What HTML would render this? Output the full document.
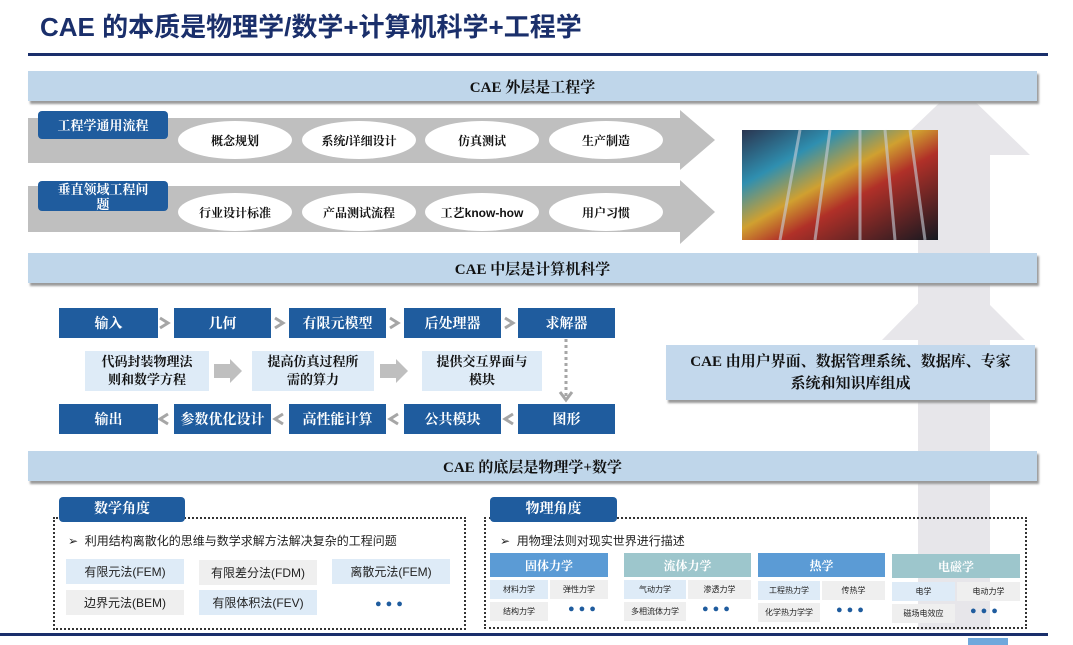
<!DOCTYPE html>
<html><head><meta charset="utf-8"><style>
*{margin:0;padding:0;box-sizing:border-box}
body{width:1073px;height:645px;background:#fff;position:relative;overflow:hidden;font-family:"Liberation Sans","Noto Sans CJK SC",sans-serif}
.a{position:absolute}
.band{position:absolute;left:28px;width:1009px;height:30px;background:#bfd6ea;box-shadow:2px 3px 2px #9a9a9a;font-family:"Liberation Serif","Noto Serif CJK SC",serif;font-weight:bold;font-size:15px;color:#111;display:flex;align-items:center;justify-content:center}
.tab{position:absolute;background:#1f5c9e;color:#fff;font-size:13px;border-radius:4px;display:flex;align-items:center;justify-content:center;text-align:center;line-height:15px;font-family:"Liberation Serif","Noto Serif CJK SC",serif;font-weight:bold}
.el{position:absolute;width:114px;height:38px;border-radius:50%;background:#fff;font-size:12px;font-weight:bold;color:#111;display:flex;align-items:center;justify-content:center;font-family:"Liberation Sans","Noto Serif CJK SC",serif}
.fb{position:absolute;height:30px;background:#1f5c9e;color:#fff;font-size:14px;font-weight:bold;display:flex;align-items:center;justify-content:center;font-family:"Liberation Serif","Noto Serif CJK SC",serif}
.mb{position:absolute;background:#deebf7;font-size:13px;font-weight:bold;color:#111;display:flex;align-items:center;justify-content:center;text-align:center;line-height:18px;font-family:"Liberation Serif","Noto Serif CJK SC",serif}
.dot{position:absolute;border:2px dotted #333}
.cell{position:absolute;font-size:12px;color:#222;display:flex;align-items:center;justify-content:center}
.lb{background:#deebf7}.gr{background:#efefef}
.hd{position:absolute;height:24px;color:#fff;font-size:12px;font-weight:bold;display:flex;align-items:center;justify-content:center;font-family:"Liberation Serif","Noto Serif CJK SC",serif}
.sc{position:absolute;height:19px;font-size:8px;color:#222;display:flex;align-items:center;justify-content:center}
.dots{position:absolute;color:#1f5c9e;font-size:11px;letter-spacing:4px}
</style></head><body>
<div class="a" style="left:40px;top:7px;font-size:26px;font-weight:bold;color:#1a2f6b">CAE 的本质是物理学/数学+计算机科学+工程学</div>
<div class="a" style="left:28px;top:53px;width:1020px;height:3px;background:#1a2f6b"></div>

<svg class="a" style="left:0;top:0" width="1073" height="645">
<polygon points="918,630 918,155 885,155 958,85 1030,155 990,155 990,630" fill="#e7e6ea"/>
<polygon points="918,450 918,340 882,340 953,268 1025,340 990,340 990,450" fill="#e7e6ea"/>
<polygon points="28,118 680,118 680,110 715,140 680,170 680,163 28,163" fill="#bfbfbf"/>
<polygon points="28,186 680,186 680,180 715,212 680,244 680,232 28,232" fill="#bfbfbf"/>
<defs><linearGradient id="g" x1="0" y1="0" x2="1" y2="1"><stop offset="0" stop-color="#2a3550"/><stop offset=".25" stop-color="#2f8fb0"/><stop offset=".45" stop-color="#d0a030"/><stop offset=".6" stop-color="#b03028"/><stop offset="1" stop-color="#141820"/></linearGradient></defs>
<rect x="742" y="130" width="196" height="110" fill="url(#g)"/>
<g stroke="#c8ced8" stroke-width="3" opacity=".6">
<line x1="800" y1="130" x2="780" y2="240"/><line x1="830" y1="130" x2="815" y2="240"/><line x1="860" y1="130" x2="860" y2="240"/><line x1="885" y1="130" x2="895" y2="240"/><line x1="910" y1="130" x2="925" y2="240"/></g>
<g stroke="#a6a6a6" stroke-width="3" fill="none">
<polyline points="160,318 168,323 160,328"/><polyline points="275,318 283,323 275,328"/><polyline points="390,318 398,323 390,328"/><polyline points="505,318 513,323 505,328"/>
<polyline points="168,414 160,419 168,424"/><polyline points="283,414 275,419 283,424"/><polyline points="398,414 390,419 398,424"/><polyline points="513,414 505,419 513,424"/>
<line x1="566" y1="339" x2="566" y2="398" stroke-dasharray="3,3"/><polyline points="560,392 566,400 572,392"/>
</g>
<polygon points="214,364 230,364 230,359 242,371 230,383 230,378 214,378" fill="#bfbfbf"/>
<polygon points="380,364 396,364 396,359 408,371 396,383 396,378 380,378" fill="#bfbfbf"/>
</svg>

<div class="band" style="top:71px">CAE 外层是工程学</div>
<div class="band" style="top:253px">CAE 中层是计算机科学</div>
<div class="band" style="top:451px">CAE 的底层是物理学+数学</div>

<div class="tab" style="left:38px;top:111px;width:130px;height:28px">工程学通用流程</div>
<div class="tab" style="left:38px;top:181px;width:130px;height:30px;align-items:flex-start;padding-top:1px">垂直领域工程问<br>题</div>
<div class="el" style="left:178px;top:121px">概念规划</div>
<div class="el" style="left:302px;top:121px">系统/详细设计</div>
<div class="el" style="left:425px;top:121px">仿真测试</div>
<div class="el" style="left:549px;top:121px">生产制造</div>
<div class="el" style="left:178px;top:193px">行业设计标准</div>
<div class="el" style="left:302px;top:193px">产品测试流程</div>
<div class="el" style="left:425px;top:193px">工艺know-how</div>
<div class="el" style="left:549px;top:193px">用户习惯</div>

<div class="fb" style="left:59px;top:308px;width:99px">输入</div>
<div class="fb" style="left:174px;top:308px;width:97px">几何</div>
<div class="fb" style="left:289px;top:308px;width:97px">有限元模型</div>
<div class="fb" style="left:404px;top:308px;width:97px">后处理器</div>
<div class="fb" style="left:518px;top:308px;width:97px">求解器</div>
<div class="fb" style="left:59px;top:404px;width:99px">输出</div>
<div class="fb" style="left:174px;top:404px;width:97px">参数优化设计</div>
<div class="fb" style="left:289px;top:404px;width:97px">高性能计算</div>
<div class="fb" style="left:404px;top:404px;width:97px">公共模块</div>
<div class="fb" style="left:518px;top:404px;width:97px">图形</div>
<div class="mb" style="left:85px;top:351px;width:124px;height:40px">代码封装物理法<br>则和数学方程</div>
<div class="mb" style="left:252px;top:351px;width:122px;height:40px">提高仿真过程所<br>需的算力</div>
<div class="mb" style="left:422px;top:351px;width:120px;height:40px">提供交互界面与<br>模块</div>

<div class="mb" style="left:666px;top:345px;width:369px;height:55px;background:#c3d8ec;box-shadow:2px 3px 2px #9a9a9a;font-size:15px;line-height:22px">CAE 由用户界面、数据管理系统、数据库、专家<br>系统和知识库组成</div>

<div class="dot" style="left:53px;top:517px;width:413px;height:113px"></div>
<div class="tab" style="left:59px;top:497px;width:126px;height:25px;font-size:14px">数学角度</div>
<div class="a" style="left:68px;top:532px;font-size:12px;color:#222">➢&nbsp; 利用结构离散化的思维与数学求解方法解决复杂的工程问题</div>
<div class="cell lb" style="left:66px;top:559px;width:118px;height:25px">有限元法(FEM)</div>
<div class="cell gr" style="left:199px;top:560px;width:118px;height:25px">有限差分法(FDM)</div>
<div class="cell lb" style="left:332px;top:559px;width:118px;height:25px">离散元法(FEM)</div>
<div class="cell gr" style="left:66px;top:590px;width:118px;height:25px">边界元法(BEM)</div>
<div class="cell lb" style="left:199px;top:590px;width:118px;height:25px">有限体积法(FEV)</div>
<div class="dots" style="left:375px;top:598px">●●●</div>

<div class="dot" style="left:484px;top:517px;width:543px;height:112px"></div>
<div class="tab" style="left:490px;top:497px;width:127px;height:25px;font-size:14px">物理角度</div>
<div class="a" style="left:500px;top:532px;font-size:12px;color:#222">➢&nbsp; 用物理法则对现实世界进行描述</div>
<div class="hd" style="left:490px;top:553px;width:118px;background:#5b9bd5">固体力学</div>
<div class="hd" style="left:624px;top:553px;width:127px;background:#9dc6cc">流体力学</div>
<div class="hd" style="left:758px;top:553px;width:127px;background:#5b9bd5">热学</div>
<div class="hd" style="left:892px;top:554px;width:128px;background:#9dc6cc">电磁学</div>
<div class="sc lb" style="left:490px;top:580px;width:58px">材料力学</div>
<div class="sc gr" style="left:550px;top:580px;width:58px">弹性力学</div>
<div class="sc gr" style="left:490px;top:602px;width:58px">结构力学</div>
<div class="dots" style="left:568px;top:603px">●●●</div>
<div class="sc lb" style="left:624px;top:580px;width:62px">气动力学</div>
<div class="sc gr" style="left:688px;top:580px;width:63px">渗透力学</div>
<div class="sc gr" style="left:624px;top:602px;width:62px">多相流体力学</div>
<div class="dots" style="left:702px;top:603px">●●●</div>
<div class="sc lb" style="left:758px;top:581px;width:62px">工程热力学</div>
<div class="sc gr" style="left:822px;top:581px;width:63px">传热学</div>
<div class="sc gr" style="left:758px;top:603px;width:62px">化学热力学学</div>
<div class="dots" style="left:836px;top:604px">●●●</div>
<div class="sc lb" style="left:892px;top:582px;width:63px">电学</div>
<div class="sc gr" style="left:957px;top:582px;width:63px">电动力学</div>
<div class="sc gr" style="left:892px;top:604px;width:63px">磁场电效应</div>
<div class="dots" style="left:970px;top:605px">●●●</div>

<div class="a" style="left:0;top:633px;width:1048px;height:3px;background:#1a2f6b"></div>
<div class="a" style="left:968px;top:638px;width:40px;height:7px;background:#6fa8dc"></div>
</body></html>
